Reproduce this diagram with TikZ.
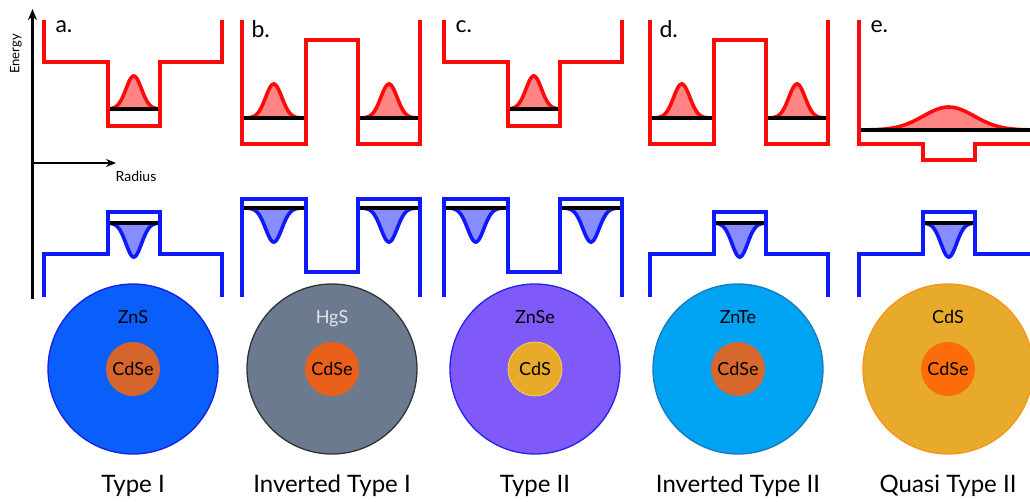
\documentclass[tikz,border=0pt]{standalone}
\usepackage{fontspec}
\setmainfont{Lato}
\usetikzlibrary{arrows.meta}
\definecolor{cred}{RGB}{255,10,10}
\definecolor{cblue}{RGB}{15,25,255}
\definecolor{shA}{RGB}{10,95,250}
\definecolor{shAb}{RGB}{20,30,230}
\definecolor{coreA}{RGB}{214,100,45}
\definecolor{shB}{RGB}{107,122,143}
\definecolor{shBb}{RGB}{50,50,55}
\definecolor{coreB}{RGB}{232,96,26}
\definecolor{shC}{RGB}{128,90,248}
\definecolor{shCb}{RGB}{35,35,230}
\definecolor{coreC}{RGB}{232,170,42}
\definecolor{coreCb}{RGB}{250,210,80}
\definecolor{shD}{RGB}{0,162,242}
\definecolor{shDb}{RGB}{25,120,190}
\definecolor{coreD}{RGB}{214,104,45}
\definecolor{shE}{RGB}{232,170,42}
\definecolor{shEb}{RGB}{247,148,29}
\definecolor{coreE}{RGB}{252,108,10}
\definecolor{lightlab}{RGB}{230,230,232}
\tikzset{
  redline/.style={draw=cred,line width=4pt},
  blueline/.style={draw=cblue,line width=4pt},
  level/.style={draw=black,line width=3.2pt},
  shell/.style={circle,minimum size=170pt,inner sep=0pt,line width=1.3pt},
  core/.style={circle,minimum size=54pt,inner sep=0pt,line width=0.8pt,font=\fontsize{18}{20}\selectfont},
  shlab/.style={anchor=base,font=\fontsize{18}{20}\selectfont},
  typelab/.style={anchor=base,font=\fontsize{24}{28}\selectfont},
  panlab/.style={anchor=base west,font=\fontsize{23}{26}\selectfont},
}
% #1 from, #2 to, #3 centre, #4 base, #5 amplitude, #6 width, #7 colour
\newcommand\wavefn[7]{%
  \fill[#7!50] plot[domain=#1:#2,samples=70,smooth] (\x,{#4-(#5)*exp(-((\x-(#3))/(#6))^2)}) -- cycle;
  \draw[#7,line width=3.6pt] plot[domain=#1:#2,samples=70,smooth] (\x,{#4-(#5)*exp(-((\x-(#3))/(#6))^2)});
  \draw[level] (#1,#4) -- (#2,#4);
}
\newcommand\redwell{%
  \draw[redline] (0,20) -- (0,62) -- (63.5,62) -- (63.5,126) -- (116,126) -- (116,62) -- (178,62) -- (178,20);
  \wavefn{65.5}{114}{89.75}{109}{33}{11}{cred}}
\newcommand\redbarrier{%
  \draw[redline] (0,20) -- (0,144) -- (63.5,144) -- (63.5,40) -- (116,40) -- (116,144) -- (178,144) -- (178,20);
  \wavefn{2}{61.5}{31.75}{118}{34}{11.5}{cred}
  \wavefn{118}{176}{147}{118}{34}{11.5}{cred}}
\newcommand\bluebump{%
  \draw[blueline] (0,297) -- (0,254) -- (63.5,254) -- (63.5,212) -- (116,212) -- (116,254) -- (178,254) -- (178,297);
  \wavefn{65.5}{114}{89.75}{223}{-34}{11}{cblue}}
\newcommand\bluewell{%
  \draw[blueline] (0,297) -- (0,199) -- (63.5,199) -- (63.5,272) -- (116,272) -- (116,199) -- (178,199) -- (178,297);
  \wavefn{2}{61.5}{31.75}{208}{-34}{11.5}{cblue}
  \wavefn{118}{176}{147}{208}{-34}{11.5}{cblue}}
\begin{document}
\begin{tikzpicture}[x=1pt,y=-1pt]
\useasboundingbox (0,0) rectangle (1030,501);
% axes
\coordinate (eb) at (32.5,299);
\coordinate (et) at (32.5,9);
\coordinate (ro) at (32.5,163);
\coordinate (re) at (116,163);
\draw[line width=3pt,-{Stealth[length=11pt,width=9pt]}] (eb) -- (et);
\draw[line width=2.5pt,-{Stealth[length=10pt,width=8pt]}] (ro) -- (re);
\node[rotate=90,font=\fontsize{13}{15}\selectfont] (energy) at (16,54) {Energy};
\node[anchor=base,font=\fontsize{14}{16}\selectfont] (radius) at (136,181) {Radius};
% panel a
\begin{scope}[shift={(44,0)}]
  \redwell \bluebump
  \node[panlab] (la) at (8,32) {a.};
\end{scope}
% panel b
\begin{scope}[shift={(242,0)}]
  \redbarrier \bluewell
  \node[panlab] (lb) at (6,37) {b.};
\end{scope}
% panel c
\begin{scope}[shift={(444,0)}]
  \redwell \bluewell
  \node[panlab] (lc) at (8,32) {c.};
\end{scope}
% panel d
\begin{scope}[shift={(650,0)}]
  \redbarrier \bluebump
  \node[panlab] (ld) at (6,37) {d.};
\end{scope}
% panel e
\begin{scope}[shift={(859,0)}]
  \draw[redline] (0,20) -- (0,144) -- (63.5,144) -- (63.5,160) -- (116,160) -- (116,144) -- (175,144);
  \wavefn{2}{175}{89.75}{130}{23}{36}{cred}
  \draw[blueline] (0,297) -- (0,254) -- (63.5,254) -- (63.5,212) -- (116,212) -- (116,254) -- (175,254);
  \wavefn{65.5}{114}{89.75}{223}{-34}{11}{cblue}
  \node[panlab] (le) at (8,32) {e.};
\end{scope}
% dots
\node[shell,fill=shA,draw=shAb] (sa) at (133,369) {};
\node[core,fill=coreA] (ca) at (133,369) {CdSe};
\node[shlab] (ta) at (133,323) {ZnS};
\node[typelab] (na) at (133,492) {Type I};

\node[shell,fill=shB,draw=shBb] (sb) at (332,369) {};
\node[core,fill=coreB] (cb) at (332,369) {CdSe};
\node[shlab,text=lightlab] (tb) at (332,323) {HgS};
\node[typelab] (nb) at (332,492) {Inverted Type I};

\node[shell,fill=shC,draw=shCb] (sc) at (535,369) {};
\node[core,fill=coreC,draw=coreCb] (cc) at (535,369) {CdS};
\node[shlab] (tc) at (535,323) {ZnSe};
\node[typelab] (nc) at (535,492) {Type II};

\node[shell,fill=shD,draw=shDb] (sd) at (738,369) {};
\node[core,fill=coreD] (cd) at (738,369) {CdSe};
\node[shlab] (td) at (738,323) {ZnTe};
\node[typelab] (nd) at (738,492) {Inverted Type II};

\node[shell,fill=shE,draw=shEb] (se) at (948,369) {};
\node[core,fill=coreE] (ce) at (948,369) {CdSe};
\node[shlab] (te) at (948,323) {CdS};
\node[typelab] (ne) at (948,492) {Quasi Type II};
\end{tikzpicture}
\end{document}
